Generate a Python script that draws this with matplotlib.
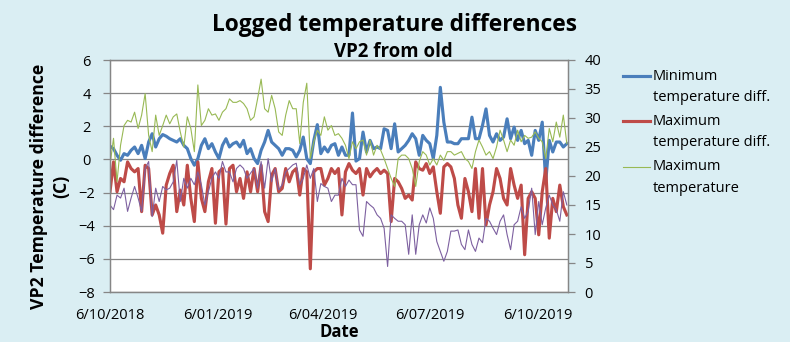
import matplotlib.pyplot as plt
from matplotlib.lines import Line2D
import pandas as pd

plt.rcParams['font.family'] = ['Open Sans', 'DejaVu Sans']

# Logged readings, one every third day from 6 Oct 2018
dates = pd.date_range('2018-10-06', periods=131, freq='3D')

min_diff = [
    0.8, 0.65, 0.25, -0.05, 0.35, 0.25, 0.55, 0.75, 0.35, 0.85, 0.05, 1.05, 1.55, 0.75, 1.25, 1.5, 1.4,
    1.25, 1.15, 1.05, 1.25, 0.85, 0.65, 0.05, -0.35, 0.05, 0.85, 1.25, 0.65, 0.95, 0.45, 0.05, 0.85, 1.25,
    0.75, 0.95, 1.05, 0.75, 1.15, 0.35, 0.65, 0.05, -0.25, 0.55, 1.05, 1.75, 1.05, 0.85, 0.65, 0.25,
    0.65, 0.65, 0.55, 0.15, 0.55, 1.35, 0.05, -0.25, 1.15, 2.1, 0.35, 0.75, 0.45, 0.85, 0.95, 0.25,
    0.75, 0.25, 0.25, 2.8, -0.1, 0.05, 1.65, 0.45, 1.15, 0.65, 0.75, 0.65, 1.85, 1.75, 0.65, 2.15,
    0.45, 0.65, 0.85, 1.15, 1.55, 1.25, 0.25, 1.45, 1.15, 0.95, 0.05, 1.45, 4.35, 2.25, 1.05, 1.05,
    0.95, 0.95, 1.25, 1.25, 1.25, 2.55, 1.25, 1.25, 2.05, 3.05, 1.45, 1.05, 1.55, 1.15, 1.35, 2.45,
    1.25, 1.95, 1.15, 1.75, 0.95, 1.15, 0.25, 1.75, 1.15, 2.25, -1.35, 1.15, 0.45, 1.05, 1.05, 0.75, 0.95,
]
max_diff = [
    -1.95, -0.15, -1.95, -1.15, -1.35, -0.15, -0.55, -0.75, -0.55, -3.15, -0.35, -0.55, -3.35, -2.75,
    -3.35, -4.45, -1.55, -0.85, -0.35, -3.15, -1.85, -2.75, -0.35, -2.35, -3.75, -0.15, -2.35, -3.15,
    -1.35, -0.55, -3.85, -0.75, -0.55, -3.9,
    -0.55, -0.35, -1.95, -1.15, -2.35, -0.75, -1.95, -0.55, -1.95, -0.35, -3.15, -3.75, -0.95, -0.55,
    -1.95, -1.75, -0.55, -1.35, -0.75, -0.55, -2.15, -0.55, -0.75, -6.6, -0.75, -0.55, -0.55, -1.55,
    -1.15, -0.55, -0.85, -0.55,
    -3.35, -0.75, -0.25, -0.65, -0.85, -0.55, -2.15, -0.55, -1.05, -0.75, -0.55, -0.85, -0.65, -0.85,
    -3.75, -1.15, -1.35, -1.75, -2.35, -2.15, -2.45, -0.15, -0.55, -0.65, -0.25, -0.85, -0.45, -1.95,
    -3.25, -0.45, -0.25, -0.45,
    -1.15, -2.75, -3.55, -1.15, -1.95, -3.15, -0.55, -3.55, -0.55, -3.95, -2.75, -1.95, -0.55, -1.15,
    -2.35, -2.75, -0.55, -1.55, -2.35, -1.55, -5.75, -2.35, -1.95, -2.35, -4.55, -1.95, -0.55, -4.75,
    -2.35, -3.15, -1.55, -2.85, -3.35,
]
max_temp = [
    21.9, 26.5, 19.0, 25.3, 28.7, 29.6, 29.3, 31.0, 28.2, 30.5, 34.2, 27.0, 24.2, 30.5, 27.0, 28.7, 30.5,
    29.0, 30.2, 30.7, 27.6, 25.0, 30.2, 28.2, 24.2, 35.7, 28.7, 29.6, 31.6, 30.5, 30.7, 29.6, 31.0, 31.6,
    33.3, 32.7, 32.7, 33.0, 32.5, 31.6, 29.6, 30.2, 33.3, 36.7, 31.6, 31.0, 33.9, 31.6, 27.6, 27.0,
    30.5, 33.0, 31.6, 31.6, 25.6, 32.7, 36.0, 23.0, 25.9, 27.9, 27.0, 30.2, 27.9, 28.7, 27.0, 27.3,
    26.5, 25.3, 23.0, 25.9, 24.7, 25.9, 26.2, 23.6, 26.2, 23.6, 25.3, 24.5, 23.0, 21.3, 19.6, 18.2,
    23.0, 23.6, 23.6, 23.0, 21.3, 18.2, 22.5, 24.2, 23.6, 21.9, 23.0, 21.9, 23.6, 22.7, 24.2, 24.2,
    23.6, 23.9, 24.2, 23.0, 22.5, 21.3, 24.2, 26.2, 25.0, 23.6, 24.2, 23.0, 25.0, 27.9, 26.2, 24.2,
    26.2, 25.3, 27.9, 25.9, 27.0, 26.5, 26.7, 27.6, 26.5, 25.9, 23.0, 28.2, 25.9, 29.3, 26.7, 30.5, 25.6,
]
min_temp = [
    15.0, 14.2, 16.7, 16.2, 17.9, 13.9, 16.2, 18.2, 16.2, 13.9, 21.3, 22.5, 13.0, 17.9, 15.6, 18.2, 17.6,
    17.9, 19.0, 22.7, 15.6, 19.6, 17.9, 19.6, 18.5, 20.7, 18.5, 15.0, 17.3, 19.6, 20.7, 19.6, 22.5, 20.7,
    20.7, 19.0, 21.3, 21.9, 21.3, 19.6, 20.5, 21.3, 17.9, 22.5, 17.9, 23.0, 19.0, 21.3, 17.6, 18.5,
    20.7, 21.3, 21.9, 22.2, 18.5, 19.6, 21.9, 19.6, 21.3, 15.6, 18.7, 18.2, 17.9, 15.6, 16.7, 16.7,
    19.6, 18.2, 19.3, 18.5, 18.5, 10.7, 9.6, 15.6, 15.0, 14.5, 13.3, 12.7, 11.0, 4.4, 13.3, 12.7,
    12.2, 12.2, 11.6, 6.5, 13.3, 6.5, 11.6, 13.3, 11.9, 14.5, 12.7, 8.7, 7.0, 5.3, 7.0, 10.5,
    10.5, 10.7, 8.2, 7.3, 10.7, 8.2, 7.0, 9.3, 8.5, 12.7, 12.2, 11.0, 9.9, 12.2, 13.3, 9.9,
    7.3, 11.6, 12.2, 14.7, 12.7, 13.9, 17.9, 9.9, 15.6, 11.6, 14.5, 16.7, 15.0, 14.2, 12.2, 17.3, 15.0,
]

tick_dates = pd.to_datetime(['2018-10-06', '2019-01-06', '2019-04-06', '2019-07-06', '2019-10-06'])
tick_labels = ['6/10/2018', '6/01/2019', '6/04/2019', '6/07/2019', '6/10/2019']

series_labels = ['Minimum\ntemperature diff.', 'Maximum\ntemperature diff.', 'Maximum\ntemperature']
colors = ['#4A7EBB', '#BE4B48', '#98B954', '#7D60A0']
grid_grey = '#868686'
bg = '#DAEEF3'

fig = plt.figure(figsize=(7.9, 3.42), dpi=100)
fig.patch.set_facecolor(bg)
ax = fig.add_axes([110 / 790, 1 - 292 / 342, 458 / 790, 232 / 342])
ax.set_facecolor('white')

ax.plot(dates, min_diff, color=colors[0], lw=2.25)
ax.plot(dates, max_diff, color=colors[1], lw=2.25)
ax.set_ylim(-8, 6)
ax.set_yticks(range(-8, 7, 2))
ax.set_xlim(pd.Timestamp('2018-10-06'), pd.Timestamp('2019-11-01'))
ax.set_xticks(tick_dates)
ax.set_xticklabels(tick_labels)
ax.yaxis.grid(True, color=grid_grey, lw=0.9)
ax.set_axisbelow(True)

ax2 = ax.twinx()
ax2.plot(dates, max_temp, color=colors[2], lw=0.8)
ax2.plot(dates, min_temp, color=colors[3], lw=0.8)
ax2.set_ylim(0, 40)
ax2.set_yticks(range(0, 41, 5))

for a in (ax, ax2):
    for side in ('left', 'right', 'bottom', 'top'):
        a.spines[side].set_color(grid_grey)
        a.spines[side].set_linewidth(0.9)

ax.tick_params(axis='x', length=0, pad=11.5, labelsize=10.5)
ax.tick_params(axis='y', length=5, color=grid_grey, width=0.9, pad=12, labelsize=10.5)
for lbl in ax.get_yticklabels():
    lbl.set_horizontalalignment('center')
ax2.tick_params(axis='y', length=5, color=grid_grey, width=0.9, pad=7, labelsize=10.5)

ax.set_xlabel('Date', fontsize=12, fontweight='bold', labelpad=0)
ax.set_ylabel('VP2 Temperature difference\n(C)', fontsize=12.7, fontweight='bold',
              va='center', linespacing=1.25)
ax.yaxis.set_label_coords(-0.131, 0.455)

fig.text(0.5, 1 - 31 / 342, 'Logged temperature differences', ha='center', va='baseline',
         fontsize=16.4, fontweight='bold')
fig.text(393 / 790, 1 - 57 / 342, 'VP2 from old', ha='center', va='baseline',
         fontsize=13.4, fontweight='bold')

# Legend drawn by hand so the key sits beside the first line of each entry
for i, (label, color, lw) in enumerate(zip(series_labels, colors, [2.25, 2.25, 0.8])):
    y0 = 75.5 + i * 45.5
    fig.add_artist(Line2D([623 / 790, 650 / 790], [1 - y0 / 342, 1 - y0 / 342],
                          color=color, lw=lw, transform=fig.transFigure))
    for j, line in enumerate(label.split('\n')):
        fig.text(653 / 790, 1 - (y0 + 0.5 + j * 21) / 342, line, ha='left', va='center',
                 fontsize=10.5)

plt.savefig('out.png', dpi=100, facecolor=bg)
